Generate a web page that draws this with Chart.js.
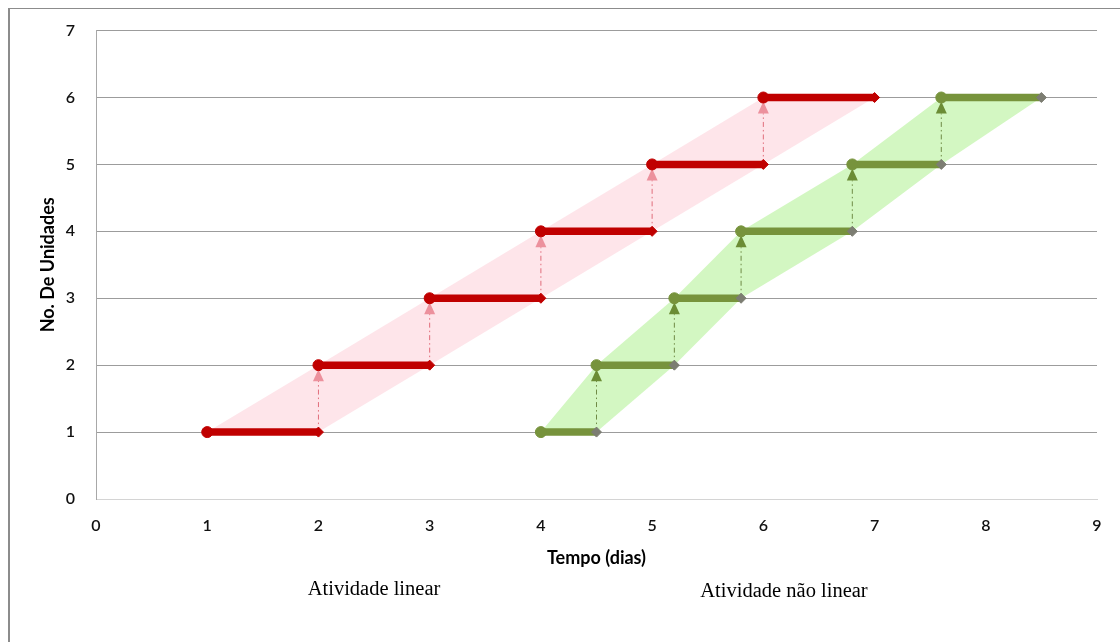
<!DOCTYPE html>
<html>
<head>
<meta charset="utf-8">
<script src="https://cdn.jsdelivr.net/npm/chart.js@4.4.1/dist/chart.umd.min.js"></script>
<style>
  body { margin: 0; background: #fff; }
  #wrap { position: relative; width: 1120px; height: 642px; overflow: hidden; }
  #frame { position: absolute; left: 8px; top: 8px; right: -5px; bottom: -5px;
           border-left: 2px solid #8c8c8c; border-top: 1px solid #8c8c8c; }
  canvas { position: absolute; left: 0; top: 0; }
  .nota { position: absolute; font-family: "Liberation Serif", serif; font-size: 20.5px; color: #000;
          transform: translate(-50%, -50%); white-space: nowrap; }
</style>
</head>
<body>
<div id="wrap">
  <div id="frame"></div>
  <canvas id="grafico" width="1120" height="642"></canvas>
  <div class="nota" style="left:374px;top:588px">Atividade linear</div>
  <div class="nota" style="left:784px;top:590px">Atividade não linear</div>
</div>
<script>
// dados
var unidades = [1, 2, 3, 4, 5, 6];
var tempoLinear = [1, 2, 3, 4, 5, 6, 7];          // inicio de cada unidade + fim da ultima
var tempoNaoLinear = [4, 4.5, 5.2, 5.8, 6.8, 7.6, 8.5];
var ticksX = [0, 1, 2, 3, 4, 5, 6, 7, 8, 9];
var ticksY = [0, 1, 2, 3, 4, 5, 6, 7];

var vermelho = '#c00000';
var verde = '#77933c';

function degraus(tempos, cor, corFim) {
    return unidades.map(function (u, i) {
        return {
            data: [{x: tempos[i], y: u}, {x: tempos[i + 1], y: u}],
            borderColor: cor,
            borderWidth: 7.5,
            pointStyle: ['circle', 'rectRot'],
            pointRadius: [5.5, 5],
            pointBackgroundColor: [cor, corFim],
            pointBorderColor: [cor, corFim],
            pointBorderWidth: 1,
            fill: false,
            order: 0
        };
    });
}

function faixa(tempos, cor, setas) {
    var inicio = unidades.map(function (u, i) { return {x: tempos[i], y: u}; });
    var fim = unidades.map(function (u, i) { return {x: tempos[i + 1], y: u}; }).reverse();
    return {
        data: inicio.concat(fim),
        borderWidth: 0,
        borderColor: 'rgba(0,0,0,0)',
        backgroundColor: cor,
        pointRadius: 0,
        fill: 'shape',
        order: 10,
        setas: setas
    };
}

var datasets = [
    faixa(tempoLinear, 'rgba(250,150,170,0.25)',
          {tempos: tempoLinear, linha: 'rgba(215,70,85,0.75)', ponta: 'rgba(230,110,125,0.7)'}),
    faixa(tempoNaoLinear, 'rgba(150,235,110,0.42)',
          {tempos: tempoNaoLinear, linha: '#6f8a45', ponta: '#6b8c35'})
].concat(degraus(tempoLinear, vermelho, vermelho), degraus(tempoNaoLinear, verde, '#7c7d72'));

var setas = {
    id: 'setas',
    afterDatasetDraw: function (chart, args) {
        var ds = chart.data.datasets[args.index];
        if (!ds.setas) return;
        var xs = chart.scales.x, ys = chart.scales.y, ctx = chart.ctx;
        var t = ds.setas.tempos;
        ctx.save();
        for (var i = 0; i < unidades.length - 1; i++) {
            var px = xs.getPixelForValue(t[i + 1]);
            var y0 = ys.getPixelForValue(unidades[i]);
            var y1 = ys.getPixelForValue(unidades[i + 1]);
            var ponta = y1 + 4, base = y1 + 16;
            ctx.setLineDash([5, 3, 1.5, 3]);
            ctx.strokeStyle = ds.setas.linha;
            ctx.lineWidth = 1;
            ctx.beginPath();
            ctx.moveTo(px, y0);
            ctx.lineTo(px, base);
            ctx.stroke();
            ctx.setLineDash([]);
            ctx.fillStyle = ds.setas.ponta;
            ctx.beginPath();
            ctx.moveTo(px, ponta);
            ctx.lineTo(px - 5.5, base);
            ctx.lineTo(px + 5.5, base);
            ctx.closePath();
            ctx.fill();
        }
        ctx.restore();
    }
};

var fonte = {family: 'Lato, "Open Sans", sans-serif', size: 16, weight: '600'};
var fonteTitulo = {family: 'Lato, "Open Sans", sans-serif', size: 18, weight: 'bold'};

new Chart(document.getElementById('grafico'), {
    type: 'line',
    data: {datasets: datasets},
    plugins: [setas],
    options: {
        responsive: false,
        animation: false,
        layout: {padding: {left: 0, top: 30, right: 23, bottom: 69}},
        plugins: {legend: {display: false}, tooltip: {enabled: false}},
        scales: {
            x: {
                type: 'linear',
                min: ticksX[0],
                max: ticksX[ticksX.length - 1],
                afterBuildTicks: function (s) { s.ticks = ticksX.map(function (v) { return {value: v}; }); },
                afterFit: function (s) { s.height = 74; },
                grid: {display: false, drawTicks: false},
                border: {color: '#d4d4d4'},
                ticks: {font: fonte, color: '#111', padding: 17, maxRotation: 0},
                title: {display: true, text: 'Tempo (dias)', color: '#000',
                        font: fonteTitulo, padding: {top: 4, bottom: 4}}
            },
            y: {
                min: ticksY[0],
                max: ticksY[ticksY.length - 1],
                afterBuildTicks: function (s) { s.ticks = ticksY.map(function (v) { return {value: v}; }); },
                afterFit: function (s) { s.width = 96; },
                grid: {
                    drawTicks: false,
                    color: function (c) { return c.tick && c.tick.value === 0 ? '#d4d4d4' : '#9c9c9c'; }
                },
                border: {color: '#a8a8a8'},
                ticks: {font: fonte, color: '#111', padding: 21},
                title: {display: true, text: 'No. De Unidades', color: '#000',
                        font: fonteTitulo, padding: {top: 37, bottom: 0}}
            }
        }
    }
});
</script>
</body>
</html>
